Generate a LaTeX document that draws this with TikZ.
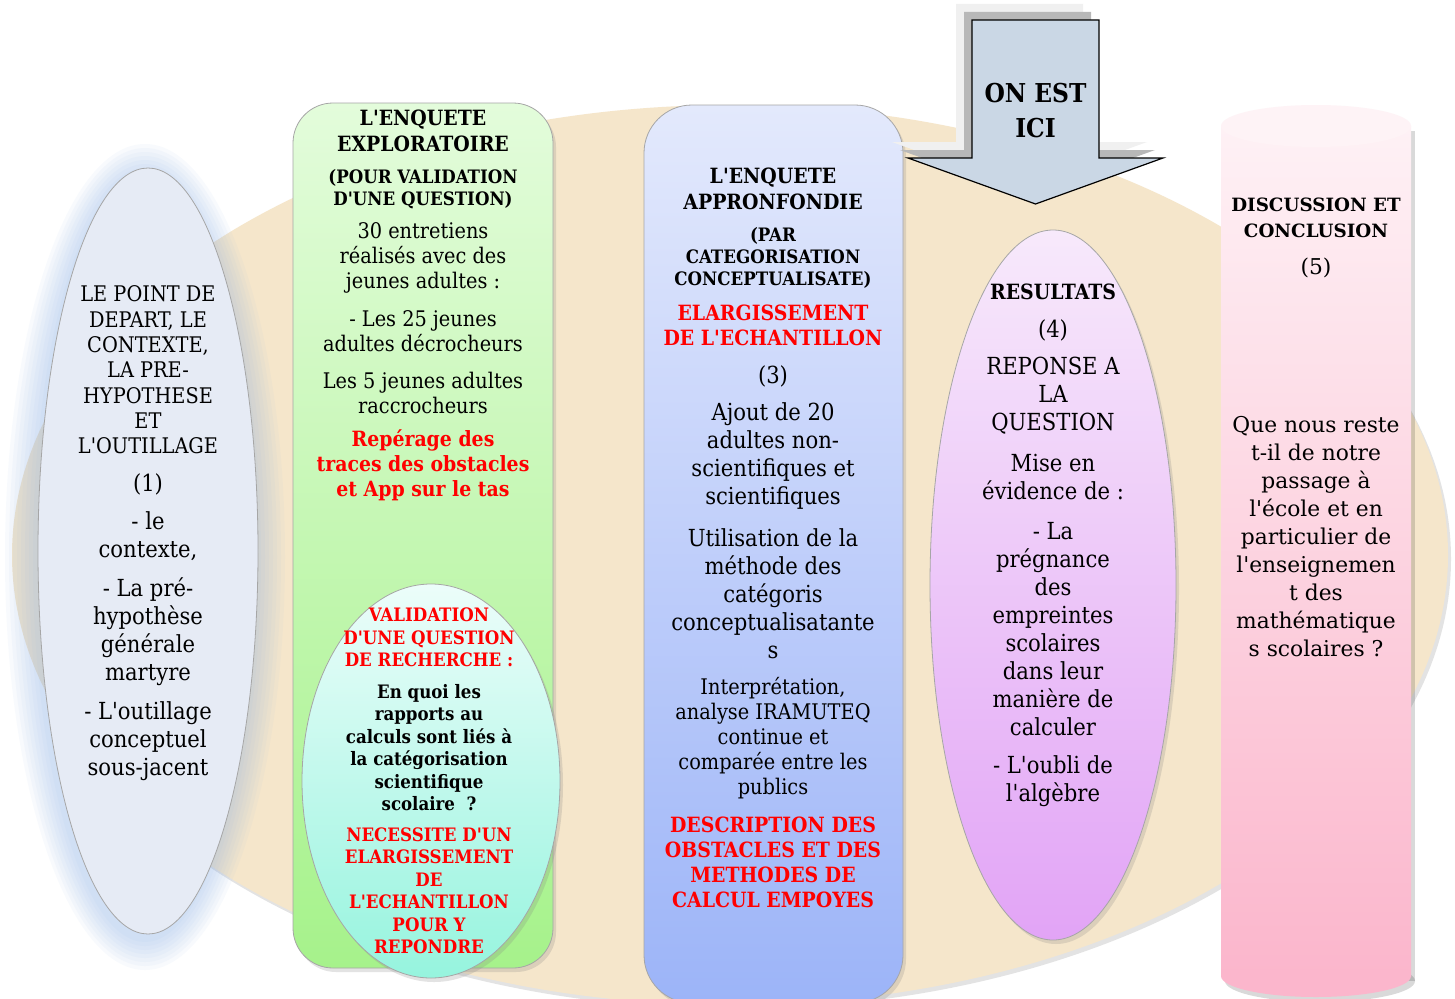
\documentclass[tikz,border=0pt]{standalone}
\usepackage{fontspec}
\setmainfont{DejaVu Serif Condensed}[Ligatures=TeXOff]
\newfontfamily\widefont{DejaVu Serif}[Ligatures=TeXOff]
\usetikzlibrary{shapes.geometric,shadows}
\definecolor{sand}{HTML}{F5E6CB}
\definecolor{glow}{HTML}{8FB4E8}
\definecolor{startfill}{HTML}{E6EBF5}
\definecolor{greentop}{HTML}{E3FCDB}
\definecolor{greenbot}{HTML}{A6F28B}
\definecolor{cyantop}{HTML}{ECFDFA}
\definecolor{cyanbot}{HTML}{96F4DE}
\definecolor{bluetop}{HTML}{E3E9FC}
\definecolor{bluebot}{HTML}{9CB4F8}
\definecolor{arrowfill}{HTML}{CAD7E5}
\definecolor{purptop}{HTML}{F7E9FB}
\definecolor{purpbot}{HTML}{E2A4F6}
\definecolor{pinktop}{HTML}{FEF1F5}
\definecolor{pinkbot}{HTML}{FBB6CC}
\definecolor{pinkcap}{HTML}{FEF3F6}
\definecolor{alert}{HTML}{FF0000}

\begin{document}
\begin{tikzpicture}[
  x=1pt, y=-1pt,
  shell/.style={draw=gray!70, line width=0.8pt},
  soft/.style={drop shadow={opacity=0.22, shadow xshift=3pt, shadow yshift=-4pt}},
  txt/.style={align=center, inner sep=0pt},
  caps/.style={txt, font=\fontsize{21.5}{25.3}\selectfont},
  big/.style={txt, font=\fontsize{23.5}{28}\selectfont},
  mid/.style={txt, font=\fontsize{21.5}{25}\selectfont},
  head/.style={txt, font=\bfseries\fontsize{21}{26}\selectfont},
  sub/.style={txt, font=\bfseries\fontsize{18.5}{22}\selectfont},
  hot/.style={txt, text=alert, font=\bfseries\fontsize{21}{25}\selectfont},
  tight/.style={txt, font=\bfseries\fontsize{18.5}{22.5}\selectfont},
  wide/.style={txt, font=\widefont\fontsize{21.8}{28}\selectfont}
]
\useasboundingbox (0,0) rectangle (1455,998);
\clip (0,0) rectangle (1455,998);
\fill[white] (0,0) rectangle (1455,998);

% Background field
\node[ellipse, fill=sand, minimum width=1436pt, minimum height=900pt, soft] (field) at (730,555) {};

% Starting point (1)
\foreach \g in {30,26,...,2}
  \node[ellipse, fill=glow, fill opacity=0.06, minimum width={220pt+2*\g pt}, minimum height={766pt+2*\g pt}] at (145,557) {};
\node[ellipse, shell, fill=startfill, minimum width=220pt, minimum height=766pt] (start) at (148,551) {};
\node[caps] (start-title) at (148,370) {LE POINT DE\\DEPART, LE\\CONTEXTE,\\LA PRE-\\HYPOTHESE\\ET\\L'OUTILLAGE};
\node[big] (start-num) at (148,484) {(1)};
\node[big] (start-a) at (148,536) {- le\\contexte,};
\node[big] (start-b) at (148,632) {- La pré-\\hypothèse\\générale\\martyre};
\node[big] (start-c) at (148,741) {- L'outillage\\conceptuel\\sous-jacent};

% Exploratory survey (2)
\node[rectangle, rounded corners=40pt, shell, top color=greentop, bottom color=greenbot, minimum width=260pt, minimum height=865pt, soft] (explore) at (423,535.5) {};
\node[head] (explore-title) at (423,131) {L'ENQUETE\\EXPLORATOIRE};
\node[sub] (explore-aim) at (423,189) {(POUR VALIDATION\\D'UNE QUESTION)};
\node[mid] (explore-a) at (423,258) {30 entretiens\\réalisés avec des\\jeunes adultes :};
\node[mid] (explore-b) at (423,331.5) {- Les 25 jeunes\\adultes décrocheurs};
\node[mid] (explore-c) at (423,392.5) {Les 5 jeunes adultes\\raccrocheurs};
\node[hot] (explore-d) at (423,465) {Repérage des\\traces des obstacles\\et App sur le tas};

% Research question
\node[ellipse, shell, top color=cyantop, bottom color=cyanbot, minimum width=258pt, minimum height=394pt, soft] (question) at (431,781) {};
\node[tight, text=alert] (question-title) at (429,637.5) {VALIDATION\\D'UNE QUESTION\\DE RECHERCHE :};
\node[tight] (question-text) at (429,747.5) {En quoi les\\rapports au\\calculs sont liés à\\la catégorisation\\scientifique\\scolaire~~?};
\node[tight, text=alert] (question-need) at (429,891) {NECESSITE D'UN\\ELARGISSEMENT\\DE\\L'ECHANTILLON\\POUR Y\\REPONDRE};

% In-depth survey (3)
\node[rectangle, rounded corners=48pt, shell, top color=bluetop, bottom color=bluebot, minimum width=259pt, minimum height=898pt, soft] (deep) at (773.5,554) {};
\node[head] (deep-title) at (773,189) {L'ENQUETE\\APPRONFONDIE};
\node[sub] (deep-aim) at (773,258) {(PAR\\CATEGORISATION\\CONCEPTUALISATE)};
\node[hot] (deep-widen) at (773,325.5) {ELARGISSEMENT\\DE L'ECHANTILLON};
\node[big] (deep-num) at (773,376) {(3)};
\node[big] (deep-a) at (773,456.5) {Ajout de 20\\adultes non-\\scientifiques et\\scientifiques};
\node[big] (deep-b) at (773,594) {Utilisation de la\\méthode des\\catégoris\\conceptualisatante\\s};
\node[mid] (deep-c) at (773,738.5) {Interprétation,\\analyse IRAMUTEQ\\continue et\\comparée entre les\\publics};
\node[hot] (deep-d) at (773,862) {DESCRIPTION DES\\OBSTACLES ET DES\\METHODES DE\\CALCUL EMPOYES};

% Current position marker
\foreach \s/\c in {16/black!6, 8/black!28}
  \fill[\c, shift={(-\s,-\s)}] (972,20) -- (1099,20) -- (1099,158) -- (1163,158) -- (1035.5,204) -- (908,158) -- (972,158) -- cycle;
\draw[line width=1.2pt, fill=arrowfill] (972,20) -- (1099,20) -- (1099,158) -- (1163,158) -- (1035.5,204) -- (908,158) -- (972,158) -- cycle;
\node[txt, font=\bfseries\fontsize{26}{35}\selectfont] (here) at (1035.5,110.5) {ON EST\\ICI};

% Results (4)
\node[ellipse, shell, top color=purptop, bottom color=purpbot, minimum width=246pt, minimum height=710pt, soft] (results) at (1053,585) {};
\node[head] (results-title) at (1053,292) {RESULTATS};
\node[big] (results-num) at (1053,330) {(4)};
\node[big] (results-a) at (1053,396) {REPONSE A\\LA\\QUESTION};
\node[big] (results-b) at (1053,477) {Mise en\\évidence de :};
\node[big] (results-c) at (1053,629.5) {- La\\prégnance\\des\\empreintes\\scolaires\\dans leur\\manière de\\calculer};
\node[big] (results-d) at (1053,781) {- L'oubli de\\l'algèbre};

% Discussion and conclusion (5)
\begin{scope}[shift={(4,5)}]
  \fill[black, opacity=0.15] (1316,976) ellipse [x radius=95, y radius=21];
  \fill[black, opacity=0.15] (1221,126) rectangle (1411,976);
\end{scope}
\fill[pinkbot] (1316,976) ellipse [x radius=95, y radius=21];
\shade[top color=pinktop, bottom color=pinkbot] (1221,126) rectangle (1411,976);
\fill[pinkcap] (1316,126) ellipse [x radius=95, y radius=21];
\node[txt, font=\widefont\bfseries\fontsize{18.3}{26}\selectfont] (close-title) at (1316,218) {DISCUSSION ET\\CONCLUSION};
\node[wide] (close-num) at (1316,268) {(5)};
\node[wide] (close-text) at (1316,536.5) {Que nous reste\\t-il de notre\\passage à\\l'école et en\\particulier de\\l'enseignemen\\t des\\mathématique\\s scolaires ?};

\end{tikzpicture}
\end{document}
